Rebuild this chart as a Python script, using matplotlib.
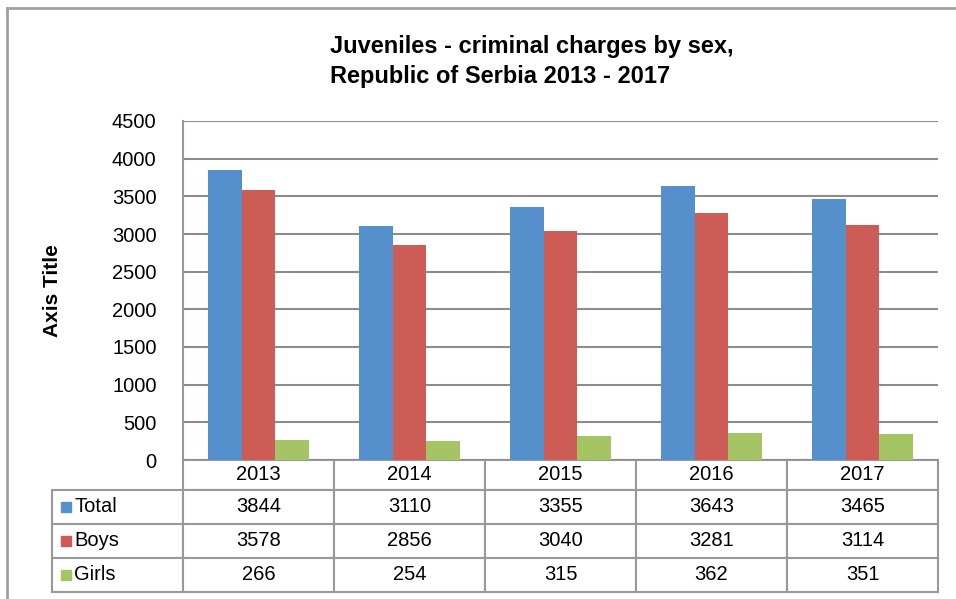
import matplotlib.pyplot as plt
from matplotlib.lines import Line2D
from matplotlib.patches import Rectangle
import numpy as np

# data
years = ['2013', '2014', '2015', '2016', '2017']
series_names = ['Total', 'Boys', 'Girls']
total = [3844, 3110, 3355, 3643, 3465]
boys = [3578, 2856, 3040, 3281, 3114]
girls = [266, 254, 315, 362, 351]
colors = ['#5590CC', '#CD5C57', '#A5C565']

plt.rcParams['font.family'] = ['Liberation Sans', 'DejaVu Sans']

W, H = 956, 599
fig = plt.figure(figsize=(W / 100, H / 100), dpi=100)

# plot area in pixel coords
px_left, px_right, px_top, px_bottom = 183, 938, 121, 460
ax = fig.add_axes([px_left / W, 1 - px_bottom / H,
                   (px_right - px_left) / W, (px_bottom - px_top) / H])

x = np.arange(len(years))
bw = 1 / 4.5  # excel gap width 150%
for i, vals in enumerate([total, boys, girls]):
    ax.bar(x + (i - 1) * bw, vals, width=bw, color=colors[i], zorder=3)

ax.set_xlim(-0.5, len(years) - 0.5)
ax.set_ylim(0, 4500)
ax.set_yticks(np.arange(0, 4501, 500))
ax.tick_params(axis='y', length=0, labelsize=14.5, pad=19)
ax.set_xticks([])
ax.grid(axis='y', color='#8c8c8c', linewidth=1.5, zorder=0)
for s in ['top', 'right', 'bottom']:
    ax.spines[s].set_visible(False)
ax.spines['left'].set_color('#999999')
ax.spines['left'].set_linewidth(1.5)

# data table under the plot
cell_text = [[''] + years]
for name, vals in zip(series_names, [total, boys, girls]):
    cell_text.append([name] + [str(v) for v in vals])

tbl_left, tbl_bottom = 52, 592
ax_w, ax_h = px_right - px_left, px_bottom - px_top
bbox = [(tbl_left - px_left) / ax_w, (px_bottom - tbl_bottom) / ax_h,
        (px_right - tbl_left) / ax_w, (tbl_bottom - px_bottom) / ax_h]
col_w = [131] + [151] * len(years)
tbl = ax.table(cellText=cell_text, colWidths=col_w, bbox=bbox,
               cellLoc='center')
tbl.auto_set_font_size(False)
tbl.set_fontsize(14.5)
for (r, c), cell in tbl.get_celld().items():
    cell.set_edgecolor('#999999')
    cell.set_linewidth(1.5)
    cell.set_height(30 if r == 0 else 34)
    if c == 0:
        cell._loc = 'left'
        cell.get_text().set_ha('left')
        cell.PAD = 0.17
tbl[(0, 0)].set_visible(False)

# legend keys in the row label cells
for i in range(3):
    y_top = 490 + i * 34 + 12
    fig.add_artist(Rectangle((61 / W, 1 - (y_top + 10) / H), 10 / W, 10 / H,
                             transform=fig.transFigure, color=colors[i]))

# titles
fig.text(330 / W, 1 - 47 / H, 'Juveniles - criminal charges by sex,',
         fontsize=17, fontweight='bold', va='center', ha='left')
fig.text(330 / W, 1 - 77 / H, 'Republic of Serbia 2013 - 2017',
         fontsize=17, fontweight='bold', va='center', ha='left')
fig.text(52 / W, 1 - 291 / H, 'Axis Title', rotation=90, fontsize=15,
         fontweight='bold', va='center', ha='center')

# outer chart border
fig.add_artist(Line2D([7 / W, 1], [1 - 8 / H, 1 - 8 / H], color='#a0a0a0',
                      linewidth=2, transform=fig.transFigure))
fig.add_artist(Line2D([7 / W, 7 / W], [0, 1 - 8 / H], color='#a0a0a0',
                      linewidth=2, transform=fig.transFigure))

fig.savefig('out.png', dpi=100)
